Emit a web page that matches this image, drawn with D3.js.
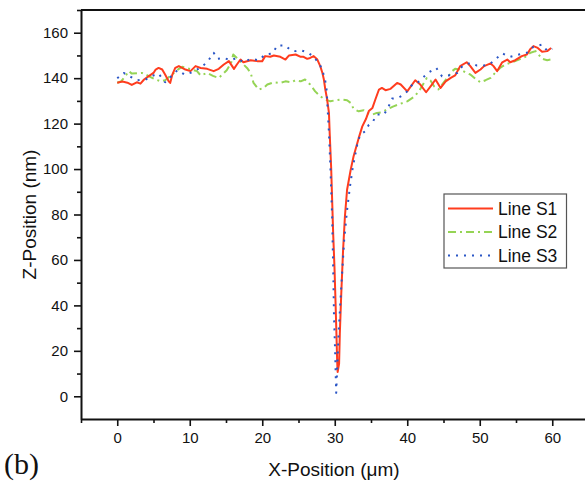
<!DOCTYPE html>
<html><head><meta charset="utf-8">
<script src="https://cdn.jsdelivr.net/npm/d3@7"></script>
<style>
html,body{margin:0;padding:0;background:#fff;overflow:hidden}
svg{display:block}
text{font-family:Arial,"Liberation Sans",sans-serif;fill:#111}
</style></head><body>
<svg id="c" width="585" height="481"></svg>
<script>
// ---- data ----
const seriesNames = ["Line S1","Line S2","Line S3"];
const xTicks = [0,10,20,30,40,50,60];
const yTicks = [0,20,40,60,80,100,120,140,160];

const s1x = [0,0.7,1.4,2.0,2.7,3.2,3.7,4.3,5.0,5.3,5.7,6.2,6.6,7.1,7.3,7.6,8.0,8.5,9.4,10.1,10.8,11.5,12.4,13.3,14.0,14.7,15.4,15.85,16.1,16.5,17.0,17.4,18.4,19.3,20.0,20.4,21.1,21.6,22.5,23.2,23.7,24.6,25.3,25.7,26.2,26.6,27.1,27.6,28.0,28.3,28.5,28.7,28.95,29.2,29.3,29.5,29.64,29.78,29.96,30.1,30.23,30.33,30.4,30.6,30.7,30.9,31.15,31.4,31.7,32.2,32.6,33.3,33.8,34.3,34.7,35.2,35.6,36.1,36.5,37.0,37.7,38.6,39.1,40.0,41.1,41.8,42.6,43.4,43.9,44.6,45.3,46.0,46.6,47.3,48.2,48.7,49.4,50.1,50.6,51.5,51.9,52.4,53.1,53.8,54.2,54.9,55.8,56.5,57.0,57.4,58.0,58.6,59.3,59.85];
const s1z = [138,138.5,138,137,138.2,137.6,139.4,140.8,142.3,143.8,144.5,143.8,141.6,138.6,137.9,141.6,144.5,145.3,143.8,143.1,145.3,144.5,144.1,143.1,144.1,146,147.5,145.3,144.1,146,148.2,147,147.9,147.5,147.5,149.7,149.4,150,149.4,148.2,150,150.4,149.4,149.4,148.5,148.9,149.7,148.2,145.3,142.3,139.4,135,130.6,124.7,115.9,101,86.5,71.8,57,42.3,27.7,15.9,10.7,14.4,27.7,45.3,64.4,79,90.9,99.7,105.6,113.6,118.8,122,125.5,126.9,130.6,135,135.7,134.7,135.3,137.9,137.2,134.2,139.1,137.2,133.8,137.2,139.4,135.7,138.6,140.1,141.2,145.3,147,145.3,142.3,143.8,145.3,146.5,145.3,143.1,147,148.2,147,147.9,149.7,150.4,152.9,154.1,153.3,151.6,151.9,153.3];

const s2x = [0,0.5,1.1,1.6,2.0,3.4,3.9,4.6,5.3,6.0,6.6,7.5,8.5,9.0,10.0,11.0,11.5,12.4,13.2,14.0,14.5,15.1,15.7,16.0,16.5,17.2,17.9,18.4,18.8,19.5,20.2,20.7,21.6,22.5,23.2,24.0,24.6,25.3,25.9,26.6,27.3,28.0,28.7,29.4,30.1,30.8,31.7,32.2,32.6,33.3,34.0,34.5,35.2,35.8,36.5,37.2,38.1,39.1,40.0,40.9,41.6,42.3,42.7,43.2,43.7,44.3,44.8,45.5,46.2,46.6,47.3,48.0,48.7,49.4,50.1,50.8,51.5,52.1,52.8,53.5,54.5,55.4,56.3,57.0,57.7,58.1,58.6,59.3,59.75];
const s2z = [138,138.5,140.8,143.1,142,142.3,141.6,140.5,139.4,138.6,139.1,141.5,144.1,145,144,143.1,141.2,142.3,141,140.1,141.6,143.5,146.7,150.4,148.9,146.7,144.5,142.3,137.9,135,135.7,137.2,138.2,137.9,138.6,138.2,139.1,138.6,139.4,137.2,134.2,132,130.6,129.8,130.3,130.6,130.3,129.1,126.5,125.4,125.9,124.7,124,124.7,125,126.2,127.6,128.8,129.8,131.7,134.2,137.9,140.1,139,136.4,135,137.2,140.1,143.1,144.1,143.8,142.6,141.6,139.7,138.2,139.1,140.1,142.3,144.5,146,147,148.2,149.4,151.2,151.9,150.4,148.5,147.9,148.2];

const s3x = [0,0.9,1.7,2.8,3.9,4.8,5.7,6.6,7.5,8.3,9.3,10.2,11.0,11.8,12.6,13.3,13.8,14.7,15.6,16.5,17.4,18.4,19.5,20.4,21.4,22.1,23.2,23.9,24.6,25.3,26.2,27.1,28.0,28.4,28.7,28.9,29.0,29.2,29.4,29.64,29.78,29.9,30.05,30.14,30.2,30.55,30.9,31.3,31.7,32.1,32.5,33.1,33.5,34.2,34.7,35.2,35.8,36.8,37.4,37.9,38.7,39.3,40.0,40.7,41.4,42.1,43.0,44.0,44.8,45.7,46.9,47.6,48.7,49.6,50.6,51.5,52.3,53.1,54.2,55.4,56.5,57.4,58.6,59.3,60.0];
const s3z = [140,142.3,140.8,139.1,139.4,141,142,138.2,141,143.5,141.6,142.5,143.8,145.3,147.9,151.2,148.5,148.9,147.9,148.9,147,148.5,147.9,150.4,150.9,154.4,154.4,152.3,151.9,152.3,151.4,149.5,145.6,142.3,138.6,134.2,127.6,115.9,101,79,57,35,20.3,8.5,1.5,29,48.2,68.8,82,92.3,101,110.7,115.1,116.6,119.5,120.5,124,124,127.3,131,131.3,132.3,134.2,137.2,137.9,140.1,142.6,144.5,140.8,141.2,142.3,145.3,146.7,145.6,145.6,146.5,148.7,150.9,149.4,150.4,151.2,153.8,154.8,152,153];

// ---- layout ----
const svg = d3.select("#c");
const L = 81, R = 588.5, T = 10, B = 419;
const x = d3.scaleLinear().domain([-5,65]).range([L,R]);
const y = d3.scaleLinear().domain([-10,170]).range([B,T]);

const styles = [
  {color:"#ff3c1e", width:2, dash:null},
  {color:"#95d455", width:2, dash:"8,4,2,4"},
  {color:"#2b56c6", width:2, dash:"2,6"}
];
const data = [[s1x,s1z],[s2x,s2z],[s3x,s3z]].map(([xs,zs]) => xs.map((v,i)=>[v,zs[i]]));

const line = d3.line().x(d=>x(d[0])).y(d=>y(d[1]));
[1,0,2].forEach(i=>{
  svg.append("path").datum(data[i]).attr("d",line)
    .attr("fill","none").attr("stroke",styles[i].color)
    .attr("stroke-width",styles[i].width)
    .attr("stroke-linejoin","round")
    .attr("stroke-dasharray",styles[i].dash);
});

// blank strip at the cropped right edge of the frame
svg.append("rect").attr("x",570).attr("y",T+2).attr("width",20).attr("height",B-T-4).attr("fill","#fff");

// frame top
svg.append("line").attr("x1",L).attr("x2",585).attr("y1",T).attr("y2",T).attr("stroke","#111").attr("stroke-width",2);

// axes: major ticks with labels, minor ticks without
const xMinor = [-5,5,15,25,35,45,55];
const yMinor = [10,30,50,70,90,110,130,150,170];
const gx = svg.append("g").attr("transform",`translate(0,${B})`);
gx.call(d3.axisBottom(x).tickValues(xTicks).tickSize(7).tickSizeOuter(0).tickPadding(6).tickFormat(d3.format("d")));
const gxm = svg.append("g").attr("transform",`translate(0,${B})`);
gxm.call(d3.axisBottom(x).tickValues(xMinor).tickSize(4).tickSizeOuter(0).tickFormat(""));
gxm.select(".domain").remove();
const gy = svg.append("g").attr("transform",`translate(${L},0)`);
gy.call(d3.axisLeft(y).tickValues(yTicks).tickSize(7).tickSizeOuter(0).tickPadding(6).tickFormat(d3.format("d")));
const gym = svg.append("g").attr("transform",`translate(${L},0)`);
gym.call(d3.axisLeft(y).tickValues(yMinor).tickSize(4).tickSizeOuter(0).tickFormat(""));
gym.select(".domain").remove();
svg.selectAll(".domain").attr("stroke","#111").attr("stroke-width",2);
svg.selectAll(".tick line").attr("stroke","#111").attr("stroke-width",1.6);
svg.selectAll(".tick text").attr("font-size",15).attr("font-family","Arial, 'Liberation Sans', sans-serif").attr("fill","#111");

// axis titles
svg.append("text").attr("x",334).attr("y",476).attr("text-anchor","middle").attr("font-size",19).text("X-Position (\u03bcm)");
svg.append("text").attr("transform",`translate(36,${(T+B)/2}) rotate(-90)`).attr("text-anchor","middle").attr("font-size",19).text("Z-Position (nm)");
svg.append("text").attr("x",4).attr("y",474).attr("font-size",30).style("font-family","'Liberation Serif','Times New Roman',serif").text("(b)");

// legend
const lg = svg.append("g");
lg.append("rect").attr("x",444).attr("y",194).attr("width",122.5).attr("height",74).attr("fill","#fff").attr("stroke","#555").attr("stroke-width",1.2);
seriesNames.forEach((n,i)=>{
  const yy = 208.5 + i*23.5;
  lg.append("line").attr("x1",448).attr("x2",493).attr("y1",yy).attr("y2",yy)
    .attr("stroke",styles[i].color).attr("stroke-width",styles[i].width)
    .attr("stroke-dasharray",styles[i].dash);
  lg.append("text").attr("x",498).attr("y",yy+6).attr("font-size",17.5).text(n);
});
</script>
</body></html>
